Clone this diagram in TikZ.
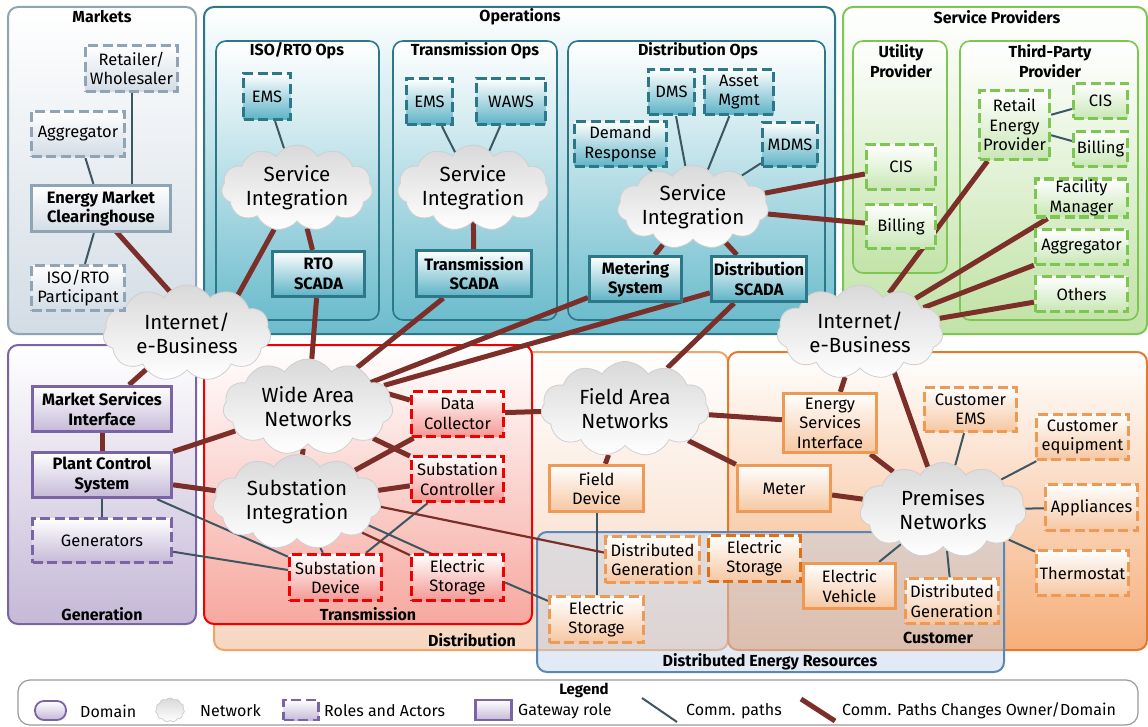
\documentclass[tikz,border=0pt]{standalone}
\usepackage{fontspec}
\setmainfont{Fira Sans}
\usetikzlibrary{shapes.symbols,calc}
\pgfdeclarelayer{domains}
\pgfdeclarelayer{links}
\pgfsetlayers{domains,links,main}

% domain palettes: border (B), domain fill (F), actor fill (N)
\definecolor{mkB}{HTML}{8FA5B5}
\definecolor{mkF}{HTML}{D3DCE5}
\definecolor{opB}{HTML}{2D7888}
\definecolor{opF}{HTML}{6CBCCD}
\definecolor{opN}{HTML}{5DB3C6}
\definecolor{spB}{HTML}{7DC652}
\definecolor{spF}{HTML}{C2E3A8}
\definecolor{spN}{HTML}{C9E7B5}
\definecolor{gnB}{HTML}{7A64A6}
\definecolor{gnF}{HTML}{C5B9D7}
\definecolor{trB}{HTML}{F00000}
\definecolor{trF}{HTML}{F6A89F}
\definecolor{trN}{HTML}{F59893}
\definecolor{dsB}{HTML}{F0A468}
\definecolor{dsF}{HTML}{F7D6BF}
\definecolor{cuB}{HTML}{E6782A}
\definecolor{cuF}{HTML}{F5AE7A}
\definecolor{orN}{HTML}{EE9A55}
\definecolor{orD}{HTML}{E07018}
\definecolor{orF}{HTML}{F6C7A2}
\definecolor{derB}{HTML}{5B87B7}
\definecolor{derF}{HTML}{BFD2EA}
\definecolor{linkC}{HTML}{3D5662}
\definecolor{ownC}{HTML}{7B2F28}
\definecolor{cloudB}{HTML}{CFCFCF}
\definecolor{cloudF}{HTML}{D9D9D9}
\definecolor{legB}{HTML}{9A9A9A}

\newcommand\boxfnt{\fontsize{16.5}{19.5}\selectfont}
\newcommand\cloudfnt{\fontsize{20.5}{24}\selectfont}
\newcommand\titlefnt{\fontsize{16}{20}\selectfont\bfseries}
\newcommand\legfnt{\fontsize{16}{19}\selectfont}

\tikzset{
  domainbox/.style={line width=2pt, rounded corners=10pt},
  dtitle/.style={font=\titlefnt, inner sep=0pt, align=center},
  actor/.style={rectangle, line width=3.3pt, align=center, inner sep=1pt, font=\boxfnt},
  role/.style={actor, dash pattern=on 10pt off 4.5pt},
  gate/.style={actor},
  bold/.style={font=\boxfnt\bfseries},
  mk/.style={draw=mkB, top color=white, bottom color=mkF},
  op/.style={draw=opB, top color=white, bottom color=opN},
  sp/.style={draw=spB, top color=white, bottom color=spN},
  gn/.style={draw=gnB, top color=white, bottom color=gnF},
  tr/.style={draw=trB, top color=white, bottom color=trN},
  orng/.style={draw=orN, top color=white, bottom color=orF},
  net/.style={cloud, cloud puffs=11, cloud puff arc=115, cloud ignores aspect,
    draw=cloudB, line width=0.8pt, top color=cloudF, bottom color=white,
    align=center, font=\cloudfnt, inner sep=0pt},
  comm/.style={draw=linkC, line width=2pt},
  own/.style={draw=ownC, line width=5pt},
  ownthin/.style={draw=ownC, line width=2.2pt},
  sz/.style 2 args={minimum width=#1pt, minimum height=#2pt},
  legtext/.style={font=\legfnt, anchor=west, inner sep=0pt},
}

\begin{document}
\begin{tikzpicture}[x=1pt, y=-1pt]
\useasboundingbox (0,0) rectangle (1148,727);

% ---------------- domains ----------------
\begin{pgfonlayer}{domains}
  \fill[white] (0,0) rectangle (1148,727);
  % Markets
  \draw[domainbox, draw=mkB, top color=white, bottom color=mkF] (8,7) rectangle (196,334);
  % Operations and its three areas
  \draw[domainbox, draw=opB, top color=white, bottom color=opF] (204,7) rectangle (835,334);
  \draw[domainbox, draw=opB, line width=1.6pt, top color=white, bottom color=opF] (216,41) rectangle (379,320);
  \draw[domainbox, draw=opB, line width=1.6pt, top color=white, bottom color=opF] (393,41) rectangle (557,320);
  \draw[domainbox, draw=opB, line width=1.6pt, top color=white, bottom color=opF] (568,41) rectangle (825,320);
  % Service providers
  \draw[domainbox, draw=spB, top color=white, bottom color=spF] (843,7) rectangle (1147,334);
  \draw[domainbox, draw=spB, line width=1.6pt, top color=white, bottom color=spF] (853,41) rectangle (947,273);
  \draw[domainbox, draw=spB, line width=1.6pt, top color=white, bottom color=spF] (960,41) rectangle (1138,320);
  % Generation
  \draw[domainbox, draw=gnB, top color=white, bottom color=gnF] (8,345) rectangle (196,624);
  % Distribution, Transmission, Customer
  \draw[domainbox, draw=dsB, top color=white, bottom color=dsF] (214,352) rectangle (728,650);
  \draw[domainbox, draw=trB, top color=white, bottom color=trF] (204,345) rectangle (532,624);
  \draw[domainbox, draw=cuB, top color=white, bottom color=cuF] (728,352) rectangle (1147,650);
  % Distributed energy resources (translucent overlay)
  \draw[domainbox, draw=derB, fill=derF, fill opacity=0.45] (537,532) rectangle (1004,672);
  % Legend frame
  \draw[line width=1.2pt, draw=legB, fill=white, rounded corners=12pt] (18,680) rectangle (1138,725);
\end{pgfonlayer}

% domain titles
\node[dtitle] (tMarkets) at (102,17) {Markets};
\node[dtitle] (tOps) at (520,17) {Operations};
\node[dtitle] (tIso) at (297,51) {ISO/RTO Ops};
\node[dtitle] (tTransOps) at (475,51) {Transmission Ops};
\node[dtitle] (tDistOps) at (698,51) {Distribution Ops};
\node[dtitle] (tSP) at (997,17) {Service Providers};
\node[dtitle] (tUtil) at (901,61) {Utility\\Provider};
\node[dtitle] (tThird) at (1050,61) {Third-Party\\Provider};
\node[dtitle] (tGen) at (102,614) {Generation};
\node[dtitle] (tTrans) at (368,614) {Transmission};
\node[dtitle] (tDist) at (472,640) {Distribution};
\node[dtitle] (tCust) at (938,638) {Customer};
\node[dtitle] (tDER) at (770,662) {Distributed Energy Resources};

% ---------------- networks ----------------
\node[net, sz={168}{96}] (inetL) at (187,333) {Internet/\\e-Business};
\node[net, sz={151}{86}] (siI) at (297,188) {Service\\Integration};
\node[net, sz={151}{86}] (siT) at (473,188) {Service\\Integration};
\node[net, sz={151}{84}] (siD) at (693,207) {Service\\Integration};
\node[net, sz={166}{94}] (inetR) at (860,332) {Internet/\\e-Business};
\node[net, sz={170}{96}] (wan) at (308,407) {Wide Area\\Networks};
\node[net, sz={168}{95}] (siS) at (297,502) {Substation\\Integration};
\node[net, sz={168}{95}] (fan) at (625,409) {Field Area\\Networks};
\node[net, sz={166}{95}] (prem) at (943,510) {Premises\\Networks};

% ---------------- Markets ----------------
\node[role, mk, sz={92}{46}] (ret) at (131.5,68.5) {Retailer/\\Wholesaler};
\node[role, mk, sz={93}{45}] (aggM) at (78,134) {Aggregator};
\node[gate, mk, bold, sz={139}{46}] (emc) at (101,208.5) {Energy Market\\Clearinghouse};
\node[role, mk, sz={93}{45}] (iso) at (78,288) {ISO/RTO\\Participant};

% ---------------- Operations ----------------
\node[role, op, sz={47}{46}] (emsI) at (267,96.5) {EMS};
\node[gate, op, bold, sz={92}{45}] (rto) at (318.5,274) {RTO\\SCADA};
\node[role, op, sz={46}{46}] (emsT) at (429.5,101.5) {EMS};
\node[role, op, sz={69}{46}] (waws) at (511,101.5) {WAWS};
\node[gate, op, bold, sz={115}{46}] (tscada) at (474,273.5) {Transmission\\SCADA};
\node[role, op, sz={46}{45}] (dms) at (671.5,92) {DMS};
\node[role, op, sz={69}{45}] (asset) at (739,92) {Asset\\Mgmt};
\node[role, op, sz={92}{45}] (dr) at (620.5,144) {Demand\\Response};
\node[role, op, sz={55}{44}] (mdms) at (790,144.5) {MDMS};
\node[gate, op, bold, sz={92}{45}] (meterS) at (635.5,279) {Metering\\System};
\node[gate, op, bold, sz={95}{45}] (dscada) at (759,279) {Distribution\\SCADA};

% ---------------- Service providers ----------------
\node[role, sp, sz={69}{45}] (cisU) at (901,167) {CIS};
\node[role, sp, sz={92}{35}] (fm) at (1081.5,198) {Facility\\Manager};
\node[role, sp, sz={92}{35}] (aggTP) at (1081.5,247) {Aggregator};
\node[role, sp, sz={92}{35}] (others) at (1081.5,294) {Others};
\node[role, sp, sz={70}{69}] (rep) at (1014.5,125) {Retail\\Energy\\Provider};
\node[role, sp, sz={54}{35}] (cisTP) at (1100.5,101) {CIS};
\node[role, sp, sz={54}{35}] (billTP) at (1100.5,149) {Billing};
\node[role, sp, sz={69}{44}] (billU) at (901,226.5) {Billing};

% ---------------- Generation ----------------
\node[gate, gn, bold, sz={139}{45}] (msi) at (102,409) {Market Services\\Interface};
\node[gate, gn, bold, sz={139}{45}] (pcs) at (102,475) {Plant Control\\System};
\node[role, gn, sz={139}{44}] (gens) at (102,540.5) {Generators};

% ---------------- Transmission ----------------
\node[role, tr, sz={92}{45}] (dc) at (457.5,414) {Data\\Collector};
\node[role, tr, sz={92}{45}] (sc) at (457.5,479) {Substation\\Controller};
\node[role, tr, sz={92}{46}] (sd) at (335.5,577.5) {Substation\\Device};
\node[role, tr, sz={92}{46}] (esT) at (457.5,577.5) {Electric\\Storage};

% ---------------- Distribution ----------------
\node[gate, orng, sz={94}{46}] (fd) at (596.5,488.5) {Field\\Device};
\node[role, orng, sz={94}{46}] (dgD) at (652.5,559.5) {Distributed\\Generation};
\node[role, orng, sz={94}{46}] (esD) at (596.5,619.5) {Electric\\Storage};
\node[role, orng, draw=orD, sz={92}{46}] (esDER) at (754.5,558.5) {Electric\\Storage};

% ---------------- Customer ----------------
\node[gate, orng, sz={93}{59}] (esi) at (830,423) {Energy\\Services\\Interface};
\node[gate, orng, sz={93}{46}] (meter) at (784,488.5) {Meter};
\node[gate, orng, sz={92}{45}] (ev) at (849.5,586) {Electric\\Vehicle};
\node[role, orng, sz={92}{44}] (cems) at (970.5,409.5) {Customer\\EMS};
\node[role, orng, sz={92}{45}] (ceq) at (1082.5,437) {Customer\\equipment};
\node[role, orng, sz={92}{46}] (app) at (1091.5,507.5) {Appliances};
\node[role, orng, sz={92}{45}] (therm) at (1082.5,573) {Thermostat};
\node[role, orng, sz={93}{45}] (dgC) at (952,601) {Distributed\\Generation};

% ---------------- connectors ----------------
\begin{pgfonlayer}{links}
  % communication paths inside a domain
  \draw[comm] (aggM) -- (emc);
  \draw[comm] (ret) -- (ret |- emc.north);
  \draw[comm] (emc) -- (iso);
  \draw[comm] (emsI) -- (siI);
  \draw[comm] (emsT) -- (siT);
  \draw[comm] (waws) -- (siT);
  \draw[comm] (dr) -- (siD);
  \draw[comm] (dms) -- (siD);
  \draw[comm] (asset) -- (siD);
  \draw[comm] (mdms) -- (siD);
  \draw[comm] (rep) -- (cisTP);
  \draw[comm] (rep) -- (billTP);
  \draw[comm] (pcs) -- (gens);
  \draw[comm] (pcs) -- (sd);
  \draw[comm] (gens) -- (sd);
  \draw[comm] (siS) -- (sd);
  \draw[comm] (sc) -- (sd);
  \draw[comm] ($(siS)+(0,-9)$) -- ($(esT)+(0,-12)$);
  \draw[comm] ($(esT.east)+(0,5)$) -- ($(esD.north west)+(0,6)$);
  \draw[comm] (fd) -- (esD);
  \draw[comm] (ev) -- (prem);
  \draw[comm] (cems) -- (prem);
  \draw[comm] (ceq) -- (prem);
  \draw[comm] (app) -- (prem);
  \draw[comm] (therm) -- (prem);
  \draw[comm] (dgC) -- (prem);
  % paths that change owner or domain
  \draw[ownthin] (siS) -- (esT);
  \draw[ownthin] ($(siS)+(60,0)$) -- ($(dgD.west)+(0,-7)$);
  \draw[own] ($(emc)+(0,6)$) -- ($(inetL)+(10,-11)$);
  \draw[own] (siI) -- ($(inetL)+(30,0)$);
  \draw[own] (siI) -- (rto);
  \draw[own] (rto) -- (wan);
  \draw[own] (siT) -- (tscada);
  \draw[own] (tscada) -- (wan);
  \draw[own] (siD) -- (meterS);
  \draw[own] (siD) -- (dscada);
  \draw[own] (siD) -- (cisU);
  \draw[own] (siD) -- (billU);
  \draw[own] (meterS) -- (wan);
  \draw[own] (dscada) -- (wan);
  \draw[own] (dscada) -- (fan);
  \draw[own] ($(wan)+(40,-25)$) -- (dc);
  \draw[own] (wan) -- (sc);
  \draw[own] (wan) -- (siS);
  \draw[own] (dc) -- (siS);
  \draw[own] (sc) -- (siS);
  \draw[own] (dc) -- (fan);
  \draw[own] (pcs) -- (wan);
  \draw[own] (pcs) -- (siS);
  \draw[own] (msi) -- (pcs);
  \draw[own] (inetL) -- (msi);
  \draw[own] (fan) -- (esi);
  \draw[own] (fan) -- (meter);
  \draw[own] (fan) -- (fd);
  \draw[own] (esi) -- (inetR);
  \draw[own] (esi) -- (prem);
  \draw[own] (meter) -- (prem);
  \draw[own] ($(inetR)+(20,0)$) -- (prem);
  \draw[own] (rep) -- (inetR);
  \draw[own] (fm) -- (inetR);
  \draw[own] (aggTP) -- (inetR);
  \draw[own] (others) -- (inetR);
\end{pgfonlayer}

% ---------------- legend ----------------
\node[font=\fontsize{15}{18}\selectfont\bfseries, inner sep=0pt] (legTitle) at (584,690) {Legend};
\node[draw=gnB, line width=1.8pt, rounded corners=9pt, top color=white, bottom color=gnF, sz={31}{19}] (lgDomain) at (50.5,710.5) {};
\node[legtext] (lgDomainT) at (80,711) {Domain};
\node[net, sz={29}{24}] (lgNet) at (170,710) {};
\node[legtext] (lgNetT) at (200,711) {Network};
\node[role, gn, line width=2.6pt, sz={35}{20}] (lgRole) at (301,710) {};
\node[legtext] (lgRoleT) at (324,711) {Roles and Actors};
\node[gate, gn, line width=2.6pt, sz={36}{20}] (lgGate) at (493.5,710) {};
\node[legtext] (lgGateT) at (518,711) {Gateway role};
\coordinate (lgC1) at (642,698);
\coordinate (lgC2) at (677,722);
\draw[comm] (lgC1) -- (lgC2);
\node[legtext] (lgCommT) at (686,711) {Comm. paths};
\coordinate (lgO1) at (801,699);
\coordinate (lgO2) at (835,721);
\draw[own] (lgO1) -- (lgO2);
\node[legtext] (lgOwnT) at (842,711) {Comm. Paths Changes Owner/Domain};
\end{tikzpicture}
\end{document}
